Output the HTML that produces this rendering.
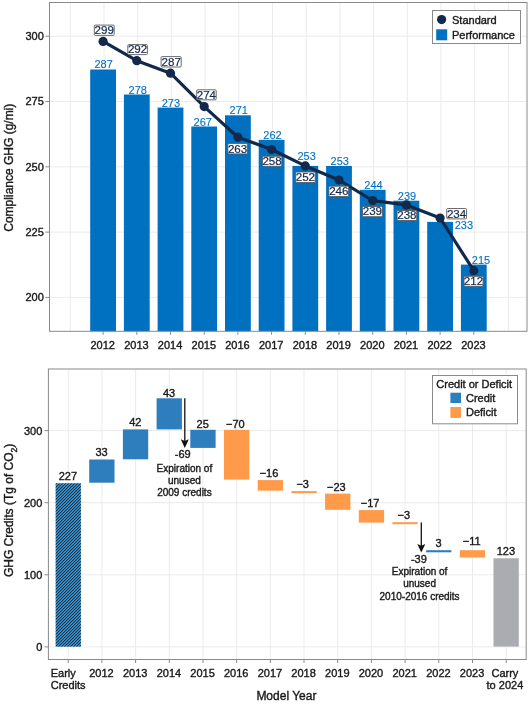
<!DOCTYPE html><html><head><meta charset="utf-8"><style>html,body{margin:0;padding:0;background:#fff;width:530px;height:707px;overflow:hidden}svg{display:block;will-change:transform;font-family:"Liberation Sans",sans-serif}</style></head><body><svg width="530" height="707" viewBox="0 0 530 707">
<defs><pattern id="hatch" patternUnits="userSpaceOnUse" width="3" height="3"><rect width="3" height="3" fill="#3199DE"/><rect x="2" y="0" width="1" height="1" fill="#262626"/><rect x="0" y="0" width="1" height="1" fill="#2B7DB8"/><rect x="1" y="1" width="1" height="1" fill="#262626"/><rect x="2" y="1" width="1" height="1" fill="#2B7DB8"/><rect x="0" y="2" width="1" height="1" fill="#262626"/><rect x="1" y="2" width="1" height="1" fill="#2B7DB8"/></pattern></defs>
<rect width="530" height="707" fill="#fff"/>
<line x1="70.3" y1="2.5" x2="70.3" y2="331.3" stroke="#EBEBEB" stroke-width="1"/>
<line x1="104.0" y1="2.5" x2="104.0" y2="331.3" stroke="#EBEBEB" stroke-width="1"/>
<line x1="137.7" y1="2.5" x2="137.7" y2="331.3" stroke="#EBEBEB" stroke-width="1"/>
<line x1="171.4" y1="2.5" x2="171.4" y2="331.3" stroke="#EBEBEB" stroke-width="1"/>
<line x1="205.1" y1="2.5" x2="205.1" y2="331.3" stroke="#EBEBEB" stroke-width="1"/>
<line x1="238.8" y1="2.5" x2="238.8" y2="331.3" stroke="#EBEBEB" stroke-width="1"/>
<line x1="272.5" y1="2.5" x2="272.5" y2="331.3" stroke="#EBEBEB" stroke-width="1"/>
<line x1="306.2" y1="2.5" x2="306.2" y2="331.3" stroke="#EBEBEB" stroke-width="1"/>
<line x1="339.9" y1="2.5" x2="339.9" y2="331.3" stroke="#EBEBEB" stroke-width="1"/>
<line x1="373.6" y1="2.5" x2="373.6" y2="331.3" stroke="#EBEBEB" stroke-width="1"/>
<line x1="407.3" y1="2.5" x2="407.3" y2="331.3" stroke="#EBEBEB" stroke-width="1"/>
<line x1="441.0" y1="2.5" x2="441.0" y2="331.3" stroke="#EBEBEB" stroke-width="1"/>
<line x1="474.7" y1="2.5" x2="474.7" y2="331.3" stroke="#EBEBEB" stroke-width="1"/>
<line x1="508.4" y1="2.5" x2="508.4" y2="331.3" stroke="#EBEBEB" stroke-width="1"/>
<line x1="542.1" y1="2.5" x2="542.1" y2="331.3" stroke="#EBEBEB" stroke-width="1"/>
<line x1="49.5" y1="297.4" x2="527" y2="297.4" stroke="#EBEBEB" stroke-width="1"/>
<line x1="49.5" y1="232.1" x2="527" y2="232.1" stroke="#EBEBEB" stroke-width="1"/>
<line x1="49.5" y1="166.8" x2="527" y2="166.8" stroke="#EBEBEB" stroke-width="1"/>
<line x1="49.5" y1="101.5" x2="527" y2="101.5" stroke="#EBEBEB" stroke-width="1"/>
<line x1="49.5" y1="36.2" x2="527" y2="36.2" stroke="#EBEBEB" stroke-width="1"/>
<rect x="90.2" y="69.5" width="25.8" height="261.8" fill="#0070C0"/>
<rect x="123.9" y="94.5" width="25.8" height="236.8" fill="#0070C0"/>
<rect x="157.6" y="107.6" width="25.8" height="223.7" fill="#0070C0"/>
<rect x="191.3" y="126.5" width="25.8" height="204.8" fill="#0070C0"/>
<rect x="225.0" y="115.3" width="25.8" height="216.0" fill="#0070C0"/>
<rect x="258.7" y="139.8" width="25.8" height="191.5" fill="#0070C0"/>
<rect x="292.4" y="165.9" width="25.8" height="165.4" fill="#0070C0"/>
<rect x="326.1" y="166" width="25.8" height="165.3" fill="#0070C0"/>
<rect x="359.8" y="189.8" width="25.8" height="141.5" fill="#0070C0"/>
<rect x="393.5" y="200.7" width="25.8" height="130.6" fill="#0070C0"/>
<rect x="427.2" y="221.9" width="25.8" height="109.4" fill="#0070C0"/>
<rect x="460.9" y="264.6" width="25.8" height="66.7" fill="#0070C0"/>
<text stroke="#0070C0" stroke-width="0.1" x="103.6" y="67.6" fill="#0070C0" font-size="11" text-anchor="middle">287</text>
<text stroke="#0070C0" stroke-width="0.1" x="137.7" y="93.5" fill="#0070C0" font-size="11" text-anchor="middle">278</text>
<text stroke="#0070C0" stroke-width="0.1" x="170.9" y="106.6" fill="#0070C0" font-size="11" text-anchor="middle">273</text>
<text stroke="#0070C0" stroke-width="0.1" x="202.8" y="125.7" fill="#0070C0" font-size="11" text-anchor="middle">267</text>
<text stroke="#0070C0" stroke-width="0.1" x="238.8" y="113.8" fill="#0070C0" font-size="11" text-anchor="middle">271</text>
<text stroke="#0070C0" stroke-width="0.1" x="272.5" y="138.7" fill="#0070C0" font-size="11" text-anchor="middle">262</text>
<text stroke="#0070C0" stroke-width="0.1" x="306.6" y="159.7" fill="#0070C0" font-size="11" text-anchor="middle">253</text>
<text stroke="#0070C0" stroke-width="0.1" x="339.8" y="164.9" fill="#0070C0" font-size="11" text-anchor="middle">253</text>
<text stroke="#0070C0" stroke-width="0.1" x="373.5" y="189.2" fill="#0070C0" font-size="11" text-anchor="middle">244</text>
<text stroke="#0070C0" stroke-width="0.1" x="407.0" y="199.7" fill="#0070C0" font-size="11" text-anchor="middle">239</text>
<text stroke="#0070C0" stroke-width="0.1" x="463.9" y="229.4" fill="#0070C0" font-size="11" text-anchor="middle">233</text>
<text stroke="#0070C0" stroke-width="0.1" x="481.0" y="263.6" fill="#0070C0" font-size="11" text-anchor="middle">215</text>
<path d="M103.1,41.4 L136.8,60.7 L170.5,73.2 L204.2,106.6 L237.9,137.2 L271.6,149.5 L305.3,165.9 L339.0,180 L372.7,200.6 L406.4,204.9 L440.1,218 L473.8,270.7" fill="none" stroke="#13294B" stroke-width="3.2" stroke-linejoin="round"/>
<circle cx="103.1" cy="41.4" r="4.6" fill="#13294B"/>
<circle cx="136.8" cy="60.7" r="4.6" fill="#13294B"/>
<circle cx="170.5" cy="73.2" r="4.6" fill="#13294B"/>
<circle cx="204.2" cy="106.6" r="4.6" fill="#13294B"/>
<circle cx="237.9" cy="137.2" r="4.6" fill="#13294B"/>
<circle cx="271.6" cy="149.5" r="4.6" fill="#13294B"/>
<circle cx="305.3" cy="165.9" r="4.6" fill="#13294B"/>
<circle cx="339.0" cy="180" r="4.6" fill="#13294B"/>
<circle cx="372.7" cy="200.6" r="4.6" fill="#13294B"/>
<circle cx="406.4" cy="204.9" r="4.6" fill="#13294B"/>
<circle cx="440.1" cy="218" r="4.6" fill="#13294B"/>
<circle cx="473.8" cy="270.7" r="4.6" fill="#13294B"/>
<rect x="94.3" y="25.1" width="19.9" height="10.3" rx="1" fill="#fff" stroke="#5a5a5a" stroke-width="0.9"/>
<text stroke="#13294B" stroke-width="0.2" x="104.2" y="34.1" fill="#13294B" font-size="11.6" text-anchor="middle">299</text>
<rect x="127.8" y="44.6" width="19.6" height="10.0" rx="1" fill="#fff" stroke="#5a5a5a" stroke-width="0.9"/>
<text stroke="#13294B" stroke-width="0.2" x="137.6" y="53.3" fill="#13294B" font-size="11.6" text-anchor="middle">292</text>
<rect x="161.10000000000002" y="56.6" width="20.1" height="10.4" rx="1" fill="#fff" stroke="#5a5a5a" stroke-width="0.9"/>
<text stroke="#13294B" stroke-width="0.2" x="171.2" y="65.7" fill="#13294B" font-size="11.6" text-anchor="middle">287</text>
<rect x="196.70000000000002" y="89.8" width="19.5" height="10.0" rx="1" fill="#fff" stroke="#5a5a5a" stroke-width="0.9"/>
<text stroke="#13294B" stroke-width="0.2" x="206.4" y="98.5" fill="#13294B" font-size="11.6" text-anchor="middle">274</text>
<rect x="227.9" y="143.6" width="19.5" height="10.3" rx="1" fill="#fff" stroke="#5a5a5a" stroke-width="0.9"/>
<text stroke="#13294B" stroke-width="0.2" x="237.6" y="152.6" fill="#13294B" font-size="11.6" text-anchor="middle">263</text>
<rect x="262.5" y="156.3" width="19.3" height="10.0" rx="1" fill="#fff" stroke="#5a5a5a" stroke-width="0.9"/>
<text stroke="#13294B" stroke-width="0.2" x="272.1" y="165.0" fill="#13294B" font-size="11.6" text-anchor="middle">258</text>
<rect x="295.7" y="172.0" width="19.5" height="10.5" rx="1" fill="#fff" stroke="#5a5a5a" stroke-width="0.9"/>
<text stroke="#13294B" stroke-width="0.2" x="305.4" y="181.2" fill="#13294B" font-size="11.6" text-anchor="middle">252</text>
<rect x="328.90000000000003" y="186.2" width="19.7" height="10.3" rx="1" fill="#fff" stroke="#5a5a5a" stroke-width="0.9"/>
<text stroke="#13294B" stroke-width="0.2" x="338.8" y="195.2" fill="#13294B" font-size="11.6" text-anchor="middle">246</text>
<rect x="362.5" y="206.5" width="19.8" height="10.2" rx="1" fill="#fff" stroke="#5a5a5a" stroke-width="0.9"/>
<text stroke="#13294B" stroke-width="0.2" x="372.4" y="215.4" fill="#13294B" font-size="11.6" text-anchor="middle">239</text>
<rect x="397.1" y="210.5" width="19.6" height="10.0" rx="1" fill="#fff" stroke="#5a5a5a" stroke-width="0.9"/>
<text stroke="#13294B" stroke-width="0.2" x="406.9" y="219.2" fill="#13294B" font-size="11.6" text-anchor="middle">238</text>
<rect x="446.7" y="208.5" width="19.8" height="10.4" rx="1" fill="#fff" stroke="#5a5a5a" stroke-width="0.9"/>
<text stroke="#13294B" stroke-width="0.2" x="456.6" y="217.6" fill="#13294B" font-size="11.6" text-anchor="middle">234</text>
<rect x="464.0" y="276.3" width="19.1" height="10.0" rx="1" fill="#fff" stroke="#5a5a5a" stroke-width="0.9"/>
<text stroke="#13294B" stroke-width="0.2" x="473.5" y="285.0" fill="#13294B" font-size="11.6" text-anchor="middle">212</text>
<rect x="49.5" y="2.5" width="477.5" height="328.8" fill="none" stroke="#8A8A8A" stroke-width="1"/>
<rect x="432.5" y="10.5" width="88" height="33" fill="#fff" stroke="#8A8A8A" stroke-width="1"/>
<circle cx="441.6" cy="19.6" r="4.6" fill="#13294B"/>
<rect x="436.2" y="29.3" width="11" height="11" fill="#0070C0"/>
<text stroke="#1A1A1A" stroke-width="0.38" x="452" y="23.7" fill="#1A1A1A" font-size="11">Standard</text>
<text stroke="#1A1A1A" stroke-width="0.38" x="452" y="39" fill="#1A1A1A" font-size="11">Performance</text>
<line x1="45.3" y1="297.4" x2="49.5" y2="297.4" stroke="#8A8A8A" stroke-width="1"/>
<text stroke="#1A1A1A" stroke-width="0.38" x="43.8" y="301.2" fill="#1A1A1A" font-size="11" text-anchor="end">200</text>
<line x1="45.3" y1="232.1" x2="49.5" y2="232.1" stroke="#8A8A8A" stroke-width="1"/>
<text stroke="#1A1A1A" stroke-width="0.38" x="43.8" y="235.9" fill="#1A1A1A" font-size="11" text-anchor="end">225</text>
<line x1="45.3" y1="166.8" x2="49.5" y2="166.8" stroke="#8A8A8A" stroke-width="1"/>
<text stroke="#1A1A1A" stroke-width="0.38" x="43.8" y="170.6" fill="#1A1A1A" font-size="11" text-anchor="end">250</text>
<line x1="45.3" y1="101.5" x2="49.5" y2="101.5" stroke="#8A8A8A" stroke-width="1"/>
<text stroke="#1A1A1A" stroke-width="0.38" x="43.8" y="105.3" fill="#1A1A1A" font-size="11" text-anchor="end">275</text>
<line x1="45.3" y1="36.2" x2="49.5" y2="36.2" stroke="#8A8A8A" stroke-width="1"/>
<text stroke="#1A1A1A" stroke-width="0.38" x="43.8" y="40.0" fill="#1A1A1A" font-size="11" text-anchor="end">300</text>
<line x1="103.1" y1="331.3" x2="103.1" y2="334.8" stroke="#8A8A8A" stroke-width="1"/>
<text stroke="#1A1A1A" stroke-width="0.38" x="102.7" y="348.5" fill="#1A1A1A" font-size="11" text-anchor="middle">2012</text>
<line x1="136.8" y1="331.3" x2="136.8" y2="334.8" stroke="#8A8A8A" stroke-width="1"/>
<text stroke="#1A1A1A" stroke-width="0.38" x="136.4" y="348.5" fill="#1A1A1A" font-size="11" text-anchor="middle">2013</text>
<line x1="170.5" y1="331.3" x2="170.5" y2="334.8" stroke="#8A8A8A" stroke-width="1"/>
<text stroke="#1A1A1A" stroke-width="0.38" x="170.1" y="348.5" fill="#1A1A1A" font-size="11" text-anchor="middle">2014</text>
<line x1="204.2" y1="331.3" x2="204.2" y2="334.8" stroke="#8A8A8A" stroke-width="1"/>
<text stroke="#1A1A1A" stroke-width="0.38" x="203.8" y="348.5" fill="#1A1A1A" font-size="11" text-anchor="middle">2015</text>
<line x1="237.9" y1="331.3" x2="237.9" y2="334.8" stroke="#8A8A8A" stroke-width="1"/>
<text stroke="#1A1A1A" stroke-width="0.38" x="237.5" y="348.5" fill="#1A1A1A" font-size="11" text-anchor="middle">2016</text>
<line x1="271.6" y1="331.3" x2="271.6" y2="334.8" stroke="#8A8A8A" stroke-width="1"/>
<text stroke="#1A1A1A" stroke-width="0.38" x="271.2" y="348.5" fill="#1A1A1A" font-size="11" text-anchor="middle">2017</text>
<line x1="305.3" y1="331.3" x2="305.3" y2="334.8" stroke="#8A8A8A" stroke-width="1"/>
<text stroke="#1A1A1A" stroke-width="0.38" x="304.9" y="348.5" fill="#1A1A1A" font-size="11" text-anchor="middle">2018</text>
<line x1="339.0" y1="331.3" x2="339.0" y2="334.8" stroke="#8A8A8A" stroke-width="1"/>
<text stroke="#1A1A1A" stroke-width="0.38" x="338.6" y="348.5" fill="#1A1A1A" font-size="11" text-anchor="middle">2019</text>
<line x1="372.7" y1="331.3" x2="372.7" y2="334.8" stroke="#8A8A8A" stroke-width="1"/>
<text stroke="#1A1A1A" stroke-width="0.38" x="372.3" y="348.5" fill="#1A1A1A" font-size="11" text-anchor="middle">2020</text>
<line x1="406.4" y1="331.3" x2="406.4" y2="334.8" stroke="#8A8A8A" stroke-width="1"/>
<text stroke="#1A1A1A" stroke-width="0.38" x="406.0" y="348.5" fill="#1A1A1A" font-size="11" text-anchor="middle">2021</text>
<line x1="440.1" y1="331.3" x2="440.1" y2="334.8" stroke="#8A8A8A" stroke-width="1"/>
<text stroke="#1A1A1A" stroke-width="0.38" x="439.7" y="348.5" fill="#1A1A1A" font-size="11" text-anchor="middle">2022</text>
<line x1="473.8" y1="331.3" x2="473.8" y2="334.8" stroke="#8A8A8A" stroke-width="1"/>
<text stroke="#1A1A1A" stroke-width="0.38" x="473.4" y="348.5" fill="#1A1A1A" font-size="11" text-anchor="middle">2023</text>
<text stroke="#1A1A1A" stroke-width="0.38" transform="translate(13.0,167.7) rotate(-90)" fill="#1A1A1A" font-size="12" text-anchor="middle">Compliance GHG (g/mi)</text>
<line x1="68.2" y1="369" x2="68.2" y2="659.5" stroke="#EBEBEB" stroke-width="1"/>
<line x1="101.9" y1="369" x2="101.9" y2="659.5" stroke="#EBEBEB" stroke-width="1"/>
<line x1="135.6" y1="369" x2="135.6" y2="659.5" stroke="#EBEBEB" stroke-width="1"/>
<line x1="169.3" y1="369" x2="169.3" y2="659.5" stroke="#EBEBEB" stroke-width="1"/>
<line x1="203.0" y1="369" x2="203.0" y2="659.5" stroke="#EBEBEB" stroke-width="1"/>
<line x1="236.6" y1="369" x2="236.6" y2="659.5" stroke="#EBEBEB" stroke-width="1"/>
<line x1="270.3" y1="369" x2="270.3" y2="659.5" stroke="#EBEBEB" stroke-width="1"/>
<line x1="304.0" y1="369" x2="304.0" y2="659.5" stroke="#EBEBEB" stroke-width="1"/>
<line x1="337.7" y1="369" x2="337.7" y2="659.5" stroke="#EBEBEB" stroke-width="1"/>
<line x1="371.4" y1="369" x2="371.4" y2="659.5" stroke="#EBEBEB" stroke-width="1"/>
<line x1="405.1" y1="369" x2="405.1" y2="659.5" stroke="#EBEBEB" stroke-width="1"/>
<line x1="438.8" y1="369" x2="438.8" y2="659.5" stroke="#EBEBEB" stroke-width="1"/>
<line x1="472.5" y1="369" x2="472.5" y2="659.5" stroke="#EBEBEB" stroke-width="1"/>
<line x1="506.2" y1="369" x2="506.2" y2="659.5" stroke="#EBEBEB" stroke-width="1"/>
<line x1="48.4" y1="646.9" x2="526.2" y2="646.9" stroke="#EBEBEB" stroke-width="1"/>
<line x1="48.4" y1="574.8" x2="526.2" y2="574.8" stroke="#EBEBEB" stroke-width="1"/>
<line x1="48.4" y1="502.7" x2="526.2" y2="502.7" stroke="#EBEBEB" stroke-width="1"/>
<line x1="48.4" y1="430.6" x2="526.2" y2="430.6" stroke="#EBEBEB" stroke-width="1"/>
<rect x="55.6" y="483.2" width="25.3" height="163.5" fill="url(#hatch)"/>
<rect x="89.2" y="459.5" width="25.3" height="23.2" fill="#2E7DBD"/>
<rect x="122.9" y="429.4" width="25.3" height="29.9" fill="#2E7DBD"/>
<rect x="156.6" y="398.3" width="25.3" height="31.1" fill="#2E7DBD"/>
<rect x="190.3" y="429.8" width="25.3" height="18.1" fill="#2E7DBD"/>
<rect x="224.0" y="429.8" width="25.3" height="49.8" fill="#FF9A4A"/>
<rect x="257.7" y="480.1" width="25.3" height="10.6" fill="#FF9A4A"/>
<rect x="291.4" y="491.1" width="25.3" height="2.1" fill="#FF9A4A"/>
<rect x="325.1" y="493.6" width="25.3" height="16.2" fill="#FF9A4A"/>
<rect x="358.8" y="510.1" width="25.3" height="12.5" fill="#FF9A4A"/>
<rect x="392.4" y="522.2" width="25.3" height="2.0" fill="#FF9A4A"/>
<rect x="426.1" y="550.2" width="25.3" height="2.1" fill="#2E7DBD"/>
<rect x="459.8" y="550.2" width="25.3" height="7.3" fill="#FF9A4A"/>
<rect x="493.5" y="558.3" width="25.3" height="88.3" fill="#ABACB1"/>
<text stroke="#1A1A1A" stroke-width="0.38" x="67.9" y="479.6" fill="#1A1A1A" font-size="11" text-anchor="middle">227</text>
<text stroke="#1A1A1A" stroke-width="0.38" x="101.6" y="456.4" fill="#1A1A1A" font-size="11" text-anchor="middle">33</text>
<text stroke="#1A1A1A" stroke-width="0.38" x="135.3" y="426.1" fill="#1A1A1A" font-size="11" text-anchor="middle">42</text>
<text stroke="#1A1A1A" stroke-width="0.38" x="169.0" y="396.6" fill="#1A1A1A" font-size="11" text-anchor="middle">43</text>
<text stroke="#1A1A1A" stroke-width="0.38" x="202.7" y="427.7" fill="#1A1A1A" font-size="11" text-anchor="middle">25</text>
<text stroke="#1A1A1A" stroke-width="0.38" x="235.3" y="427.7" fill="#1A1A1A" font-size="11" text-anchor="middle">−70</text>
<text stroke="#1A1A1A" stroke-width="0.38" x="269.0" y="477.2" fill="#1A1A1A" font-size="11" text-anchor="middle">−16</text>
<text stroke="#1A1A1A" stroke-width="0.38" x="302.7" y="488" fill="#1A1A1A" font-size="11" text-anchor="middle">−3</text>
<text stroke="#1A1A1A" stroke-width="0.38" x="336.4" y="490.7" fill="#1A1A1A" font-size="11" text-anchor="middle">−23</text>
<text stroke="#1A1A1A" stroke-width="0.38" x="370.1" y="507" fill="#1A1A1A" font-size="11" text-anchor="middle">−17</text>
<text stroke="#1A1A1A" stroke-width="0.38" x="403.8" y="519" fill="#1A1A1A" font-size="11" text-anchor="middle">−3</text>
<text stroke="#1A1A1A" stroke-width="0.38" x="438.5" y="547.1" fill="#1A1A1A" font-size="11" text-anchor="middle">3</text>
<text stroke="#1A1A1A" stroke-width="0.38" x="471.7" y="544.9" fill="#1A1A1A" font-size="11" text-anchor="middle">−11</text>
<text stroke="#1A1A1A" stroke-width="0.38" x="505.9" y="555.1" fill="#1A1A1A" font-size="11" text-anchor="middle">123</text>
<line x1="184.8" y1="398.3" x2="184.8" y2="443.9" stroke="#111" stroke-width="1.3"/>
<path d="M180.8,439.29999999999995 L184.8,441.09999999999997 L188.8,439.29999999999995 L184.8,447.9 Z" fill="#111"/>
<line x1="421.3" y1="522.6" x2="421.3" y2="548.6" stroke="#111" stroke-width="1.3"/>
<path d="M417.3,544.0 L421.3,545.8000000000001 L425.3,544.0 L421.3,552.6 Z" fill="#111"/>
<text stroke="#1A1A1A" stroke-width="0.38" x="182.7" y="457.7" fill="#1A1A1A" font-size="11" text-anchor="middle">-69</text>
<text stroke="#1A1A1A" stroke-width="0.38" x="184.4" y="471.8" fill="#1A1A1A" font-size="10" text-anchor="middle">Expiration of</text>
<text stroke="#1A1A1A" stroke-width="0.38" x="184.4" y="483.6" fill="#1A1A1A" font-size="10" text-anchor="middle">unused</text>
<text stroke="#1A1A1A" stroke-width="0.38" x="184.4" y="496.1" fill="#1A1A1A" font-size="10" text-anchor="middle">2009 credits</text>
<text stroke="#1A1A1A" stroke-width="0.38" x="418.9" y="563.2" fill="#1A1A1A" font-size="11" text-anchor="middle">-39</text>
<text stroke="#1A1A1A" stroke-width="0.38" x="419.6" y="575.2" fill="#1A1A1A" font-size="10" text-anchor="middle">Expiration of</text>
<text stroke="#1A1A1A" stroke-width="0.38" x="419.6" y="587.1" fill="#1A1A1A" font-size="10" text-anchor="middle">unused</text>
<text stroke="#1A1A1A" stroke-width="0.38" x="419.6" y="599.5" fill="#1A1A1A" font-size="10" text-anchor="middle">2010-2016 credits</text>
<rect x="48.4" y="369" width="477.8" height="290.5" fill="none" stroke="#8A8A8A" stroke-width="1"/>
<rect x="432.5" y="375.5" width="85" height="48.3" fill="#fff" stroke="#8A8A8A" stroke-width="1"/>
<text stroke="#1A1A1A" stroke-width="0.38" x="436.3" y="387.8" fill="#1A1A1A" font-size="11">Credit or Deficit</text>
<rect x="450.4" y="392.7" width="10.6" height="10.3" fill="#2E7DBD"/>
<rect x="450.4" y="407" width="10.6" height="10.9" fill="#FF9A4A"/>
<text stroke="#1A1A1A" stroke-width="0.38" x="466" y="402.2" fill="#1A1A1A" font-size="11">Credit</text>
<text stroke="#1A1A1A" stroke-width="0.38" x="466" y="416.1" fill="#1A1A1A" font-size="11">Deficit</text>
<line x1="44.6" y1="646.9" x2="48.4" y2="646.9" stroke="#8A8A8A" stroke-width="1"/>
<text stroke="#1A1A1A" stroke-width="0.38" x="42.3" y="651.1" fill="#1A1A1A" font-size="11" text-anchor="end">0</text>
<line x1="44.6" y1="574.8" x2="48.4" y2="574.8" stroke="#8A8A8A" stroke-width="1"/>
<text stroke="#1A1A1A" stroke-width="0.38" x="42.3" y="579.0" fill="#1A1A1A" font-size="11" text-anchor="end">100</text>
<line x1="44.6" y1="502.7" x2="48.4" y2="502.7" stroke="#8A8A8A" stroke-width="1"/>
<text stroke="#1A1A1A" stroke-width="0.38" x="42.3" y="506.9" fill="#1A1A1A" font-size="11" text-anchor="end">200</text>
<line x1="44.6" y1="430.6" x2="48.4" y2="430.6" stroke="#8A8A8A" stroke-width="1"/>
<text stroke="#1A1A1A" stroke-width="0.38" x="42.3" y="434.8" fill="#1A1A1A" font-size="11" text-anchor="end">300</text>
<line x1="68.2" y1="659.5" x2="68.2" y2="663" stroke="#8A8A8A" stroke-width="1"/>
<line x1="101.9" y1="659.5" x2="101.9" y2="663" stroke="#8A8A8A" stroke-width="1"/>
<line x1="135.6" y1="659.5" x2="135.6" y2="663" stroke="#8A8A8A" stroke-width="1"/>
<line x1="169.3" y1="659.5" x2="169.3" y2="663" stroke="#8A8A8A" stroke-width="1"/>
<line x1="203.0" y1="659.5" x2="203.0" y2="663" stroke="#8A8A8A" stroke-width="1"/>
<line x1="236.6" y1="659.5" x2="236.6" y2="663" stroke="#8A8A8A" stroke-width="1"/>
<line x1="270.3" y1="659.5" x2="270.3" y2="663" stroke="#8A8A8A" stroke-width="1"/>
<line x1="304.0" y1="659.5" x2="304.0" y2="663" stroke="#8A8A8A" stroke-width="1"/>
<line x1="337.7" y1="659.5" x2="337.7" y2="663" stroke="#8A8A8A" stroke-width="1"/>
<line x1="371.4" y1="659.5" x2="371.4" y2="663" stroke="#8A8A8A" stroke-width="1"/>
<line x1="405.1" y1="659.5" x2="405.1" y2="663" stroke="#8A8A8A" stroke-width="1"/>
<line x1="438.8" y1="659.5" x2="438.8" y2="663" stroke="#8A8A8A" stroke-width="1"/>
<line x1="472.5" y1="659.5" x2="472.5" y2="663" stroke="#8A8A8A" stroke-width="1"/>
<line x1="506.2" y1="659.5" x2="506.2" y2="663" stroke="#8A8A8A" stroke-width="1"/>
<text stroke="#1A1A1A" stroke-width="0.38" x="101.5" y="677.2" fill="#1A1A1A" font-size="11" text-anchor="middle">2012</text>
<text stroke="#1A1A1A" stroke-width="0.38" x="135.2" y="677.2" fill="#1A1A1A" font-size="11" text-anchor="middle">2013</text>
<text stroke="#1A1A1A" stroke-width="0.38" x="168.9" y="677.2" fill="#1A1A1A" font-size="11" text-anchor="middle">2014</text>
<text stroke="#1A1A1A" stroke-width="0.38" x="202.6" y="677.2" fill="#1A1A1A" font-size="11" text-anchor="middle">2015</text>
<text stroke="#1A1A1A" stroke-width="0.38" x="236.2" y="677.2" fill="#1A1A1A" font-size="11" text-anchor="middle">2016</text>
<text stroke="#1A1A1A" stroke-width="0.38" x="269.9" y="677.2" fill="#1A1A1A" font-size="11" text-anchor="middle">2017</text>
<text stroke="#1A1A1A" stroke-width="0.38" x="303.6" y="677.2" fill="#1A1A1A" font-size="11" text-anchor="middle">2018</text>
<text stroke="#1A1A1A" stroke-width="0.38" x="337.3" y="677.2" fill="#1A1A1A" font-size="11" text-anchor="middle">2019</text>
<text stroke="#1A1A1A" stroke-width="0.38" x="371.0" y="677.2" fill="#1A1A1A" font-size="11" text-anchor="middle">2020</text>
<text stroke="#1A1A1A" stroke-width="0.38" x="404.7" y="677.2" fill="#1A1A1A" font-size="11" text-anchor="middle">2021</text>
<text stroke="#1A1A1A" stroke-width="0.38" x="438.4" y="677.2" fill="#1A1A1A" font-size="11" text-anchor="middle">2022</text>
<text stroke="#1A1A1A" stroke-width="0.38" x="472.1" y="677.2" fill="#1A1A1A" font-size="11" text-anchor="middle">2023</text>
<text stroke="#1A1A1A" stroke-width="0.38" x="50.7" y="676.9" fill="#1A1A1A" font-size="11">Early</text>
<text stroke="#1A1A1A" stroke-width="0.38" x="50.7" y="689.1" fill="#1A1A1A" font-size="11">Credits</text>
<text stroke="#1A1A1A" stroke-width="0.38" x="504.9" y="676.9" fill="#1A1A1A" font-size="11" text-anchor="middle">Carry</text>
<text stroke="#1A1A1A" stroke-width="0.38" x="504.9" y="689.3" fill="#1A1A1A" font-size="11" text-anchor="middle">to 2024</text>
<text stroke="#1A1A1A" stroke-width="0.38" x="286.4" y="700.3" fill="#1A1A1A" font-size="12" text-anchor="middle">Model Year</text>
<text stroke="#1A1A1A" stroke-width="0.38" transform="translate(13.0,510.4) rotate(-90)" fill="#1A1A1A" font-size="12" text-anchor="middle">GHG Credits (Tg of CO<tspan font-size="8.5" dy="3.6">2</tspan><tspan dy="-3.6">)</tspan></text>
</svg></body></html>
